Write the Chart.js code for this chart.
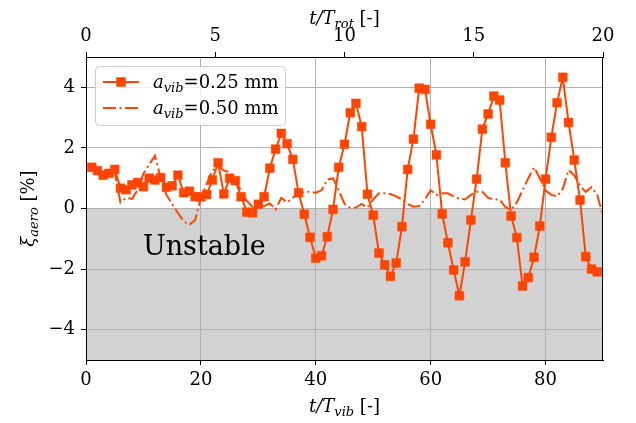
<!DOCTYPE html>
<html lang="en">
<head>
    <meta charset="UTF-8">
    <title>Aerodynamic damping</title>
    <script src="https://cdn.jsdelivr.net/npm/chart.js"></script>
    <style>
        html, body { margin: 0; padding: 0; background: #fff; }
        #wrap { width: 636px; height: 423px; position: relative; }
    </style>
</head>
<body>
    <div id="wrap"><canvas id="dampingChart"></canvas></div>

    <script>
        // t/T_vib sample points
        const tVib = [1, 2, 3, 4, 5, 6, 7, 8, 9, 10, 11, 12, 13, 14, 15, 16, 17, 18, 19, 20,
            21, 22, 23, 24, 25, 26, 27, 28, 29, 30, 31, 32, 33, 34, 35, 36, 37, 38, 39, 40,
            41, 42, 43, 44, 45, 46, 47, 48, 49, 50, 51, 52, 53, 54, 55, 56, 57, 58, 59, 60,
            61, 62, 63, 64, 65, 66, 67, 68, 69, 70, 71, 72, 73, 74, 75, 76, 77, 78, 79, 80,
            81, 82, 83, 84, 85, 86, 87, 88, 89, 90];

        // xi_aero [%] for a_vib = 0.25 mm
        const xi025 = [1.36, 1.25, 1.10, 1.16, 1.29, 0.67, 0.62, 0.78, 0.86, 0.72,
            1.00, 0.94, 1.02, 0.70, 0.75, 1.10, 0.52, 0.57, 0.39, 0.38,
            0.46, 0.94, 1.51, 0.48, 1.00, 0.92, 0.39, -0.12, -0.14, 0.14,
            0.39, 1.33, 1.96, 2.48, 2.14, 1.62, 0.52, -0.19, -0.95, -1.64,
            -1.56, -0.93, -0.03, 1.36, 2.12, 3.16, 3.47, 2.70, 0.47, -0.22,
            -1.47, -1.86, -2.24, -1.80, -0.60, 1.29, 2.29, 3.97, 3.93, 2.78,
            1.77, -0.18, -1.13, -2.03, -2.88, -1.76, -0.38, 0.97, 2.62, 3.12,
            3.71, 3.58, 1.51, -0.25, -0.96, -2.56, -2.28, -1.61, -0.58, 0.97,
            2.35, 3.49, 4.33, 2.84, 1.60, 0.28, -1.59, -2.00, -2.09];

        // xi_aero [%] for a_vib = 0.50 mm
        const xi050 = [1.35, 1.25, 1.10, 1.15, 1.20, 0.20, 0.35, 0.32, 0.62, 1.15,
            1.45, 1.74, 1.00, 0.45, 0.15, -0.15, -0.42, -0.54, -0.38, 0.35,
            0.80, 1.25, 1.40, 1.25, 1.20, 0.90, 0.60, 0.25, 0.05, 0.10,
            0.08, 0.17, -0.03, 0.35, 0.20, 0.35, 0.50, 0.55, 0.55, 0.52,
            0.60, 0.95, 1.00, 0.60, 0.15, 0.02, 0.03, 0.15, 0.03, 0.30,
            0.50, 0.50, 0.48, 0.40, 0.30, 0.15, 0.06, 0.08, 0.30, 0.60,
            0.45, 0.50, 0.50, 0.40, 0.32, 0.30, 0.45, 0.55, 0.55, 0.35,
            0.30, 0.30, 0.05, -0.05, 0.20, 0.60, 1.00, 1.36, 1.00, 0.60,
            0.45, 0.40, 0.65, 1.27, 1.10, 0.75, 0.55, 0.70, 0.45, -0.25];

        const vibTicks = [0, 20, 40, 60, 80];
        const rotTicks = [0, 5, 10, 15, 20];
        const xiTicks = [-4, -2, 0, 2, 4];

        const ORANGE = '#ff4500';
        const SERIF = '"DejaVu Serif", serif';
        const DASHDOT = [13, 3.5, 2, 3.5];

        function toPoints(vals) {
            return vals.map((v, i) => ({ x: tVib[i], y: v }));
        }

        // draw a run of text pieces (italic / subscript) left to right
        function drawRich(ctx, parts, x, y, align) {
            let total = 0;
            parts.forEach(p => { ctx.font = p.font; total += ctx.measureText(p.t).width; });
            let cx = align === 'center' ? x - total / 2 : x;
            ctx.textBaseline = 'alphabetic';
            ctx.textAlign = 'left';
            parts.forEach(p => {
                ctx.font = p.font;
                ctx.fillText(p.t, cx, y + (p.dy || 0));
                cx += ctx.measureText(p.t).width;
            });
        }

        const IT = 'italic 18px ' + SERIF;
        const SUB = 'italic 13px ' + SERIF;
        const RM = '18px ' + SERIF;

        const decorations = {
            id: 'decorations',
            beforeDraw(chart) {
                // shaded "unstable" region below zero
                const { ctx, chartArea: a, scales } = chart;
                const y0 = scales.y.getPixelForValue(0);
                ctx.save();
                ctx.fillStyle = '#d3d3d3';
                ctx.fillRect(a.left, y0, a.right - a.left, a.bottom - y0);
                ctx.restore();
            },
            afterDatasetsDraw(chart) {
                const { ctx, chartArea: a, scales } = chart;
                ctx.save();
                ctx.fillStyle = '#000';
                ctx.font = '27px ' + SERIF;
                ctx.textAlign = 'center';
                ctx.textBaseline = 'alphabetic';
                ctx.fillText('Unstable', scales.x.getPixelForValue(20.6), scales.y.getPixelForValue(-1.53));

                // frame
                ctx.strokeStyle = '#000';
                ctx.lineWidth = 1;
                ctx.strokeRect(a.left + 0.5, a.top + 0.5, a.right - a.left - 1, a.bottom - a.top);

                // legend
                const lx = a.left + 9, ly = a.top + 9, lw = 190, lh = 59;
                ctx.beginPath();
                ctx.roundRect(lx + 0.5, ly + 0.5, lw, lh, 4);
                ctx.fillStyle = 'rgba(255,255,255,0.8)';
                ctx.fill();
                ctx.strokeStyle = '#cccccc';
                ctx.stroke();

                const rows = [
                    { y: ly + 16, dash: [], marker: true, val: '=0.25 mm' },
                    { y: ly + 42, dash: DASHDOT, marker: false, val: '=0.50 mm' }
                ];
                rows.forEach(r => {
                    ctx.strokeStyle = ORANGE;
                    ctx.lineWidth = 2;
                    ctx.setLineDash(r.dash);
                    ctx.beginPath();
                    ctx.moveTo(lx + 8, r.y);
                    ctx.lineTo(lx + 44, r.y);
                    ctx.stroke();
                    ctx.setLineDash([]);
                    if (r.marker) {
                        ctx.fillStyle = ORANGE;
                        ctx.fillRect(lx + 26 - 4.75, r.y - 4.75, 9.5, 9.5);
                    }
                    ctx.fillStyle = '#000';
                    drawRich(ctx, [
                        { t: 'a', font: IT },
                        { t: 'vib', font: SUB, dy: 4 },
                        { t: r.val, font: RM }
                    ], lx + 58, r.y + 6, 'left');
                });

                // axis titles
                const cx = (a.left + a.right) / 2;
                drawRich(ctx, [
                    { t: 't/T', font: IT },
                    { t: 'vib', font: SUB, dy: 4 },
                    { t: ' [-]', font: RM }
                ], cx, 412, 'center');
                drawRich(ctx, [
                    { t: 't/T', font: IT },
                    { t: 'rot', font: SUB, dy: 4 },
                    { t: ' [-]', font: RM }
                ], cx, 24, 'center');

                ctx.translate(34, (a.top + a.bottom) / 2);
                ctx.rotate(-Math.PI / 2);
                drawRich(ctx, [
                    { t: 'ξ', font: IT },
                    { t: 'aero', font: SUB, dy: 4 },
                    { t: ' [%]', font: RM }
                ], 0, 0, 'center');
                ctx.restore();
            }
        };

        const tickFont = { family: SERIF, size: 18 };
        const minus = v => String(v).replace('-', '\u2212');

        new Chart(document.getElementById('dampingChart'), {
            type: 'line',
            data: {
                datasets: [
                    {
                        label: 'a_vib=0.25 mm',
                        data: toPoints(xi025),
                        borderColor: ORANGE,
                        backgroundColor: ORANGE,
                        borderWidth: 2,
                        pointStyle: 'rect',
                        pointRadius: 6.2,
                        pointBorderWidth: 0.5,
                        pointHoverRadius: 6.2,
                        tension: 0,
                        fill: false,
                        xAxisID: 'x'
                    },
                    {
                        label: 'a_vib=0.50 mm',
                        data: toPoints(xi050),
                        borderColor: ORANGE,
                        borderWidth: 2,
                        borderDash: DASHDOT,
                        pointRadius: 0,
                        tension: 0,
                        fill: false,
                        xAxisID: 'x'
                    }
                ]
            },
            options: {
                responsive: true,
                maintainAspectRatio: false,
                animation: false,
                layout: { padding: { left: 0, right: 33, top: 0, bottom: 0 } },
                plugins: {
                    legend: { display: false },
                    tooltip: { enabled: false }
                },
                scales: {
                    x: {
                        type: 'linear',
                        position: 'bottom',
                        min: 0,
                        max: 90,
                        afterBuildTicks: s => { s.ticks = vibTicks.map(v => ({ value: v })); },
                        afterFit: s => { s.height = 63; },
                        grid: { color: '#b0b0b0', lineWidth: 1, tickColor: '#000', tickLength: 5 },
                        border: { color: '#000' },
                        ticks: { font: tickFont, color: '#000', padding: 5, maxRotation: 0 }
                    },
                    x2: {
                        type: 'linear',
                        position: 'top',
                        min: 0,
                        max: 20,
                        afterBuildTicks: s => { s.ticks = rotTicks.map(v => ({ value: v })); },
                        afterFit: s => { s.height = 57; },
                        grid: { drawOnChartArea: false, tickColor: '#000', tickLength: 5 },
                        border: { color: '#000' },
                        ticks: { font: tickFont, color: '#000', padding: 5, maxRotation: 0 }
                    },
                    y: {
                        type: 'linear',
                        min: -5,
                        max: 5,
                        afterBuildTicks: s => { s.ticks = xiTicks.map(v => ({ value: v })); },
                        afterFit: s => { s.width = 86; },
                        grid: { color: '#b0b0b0', lineWidth: 1, tickColor: '#000', tickLength: 5 },
                        border: { color: '#000' },
                        ticks: { font: tickFont, color: '#000', padding: 6, callback: minus }
                    }
                }
            },
            plugins: [decorations]
        });
    </script>
</body>
</html>
